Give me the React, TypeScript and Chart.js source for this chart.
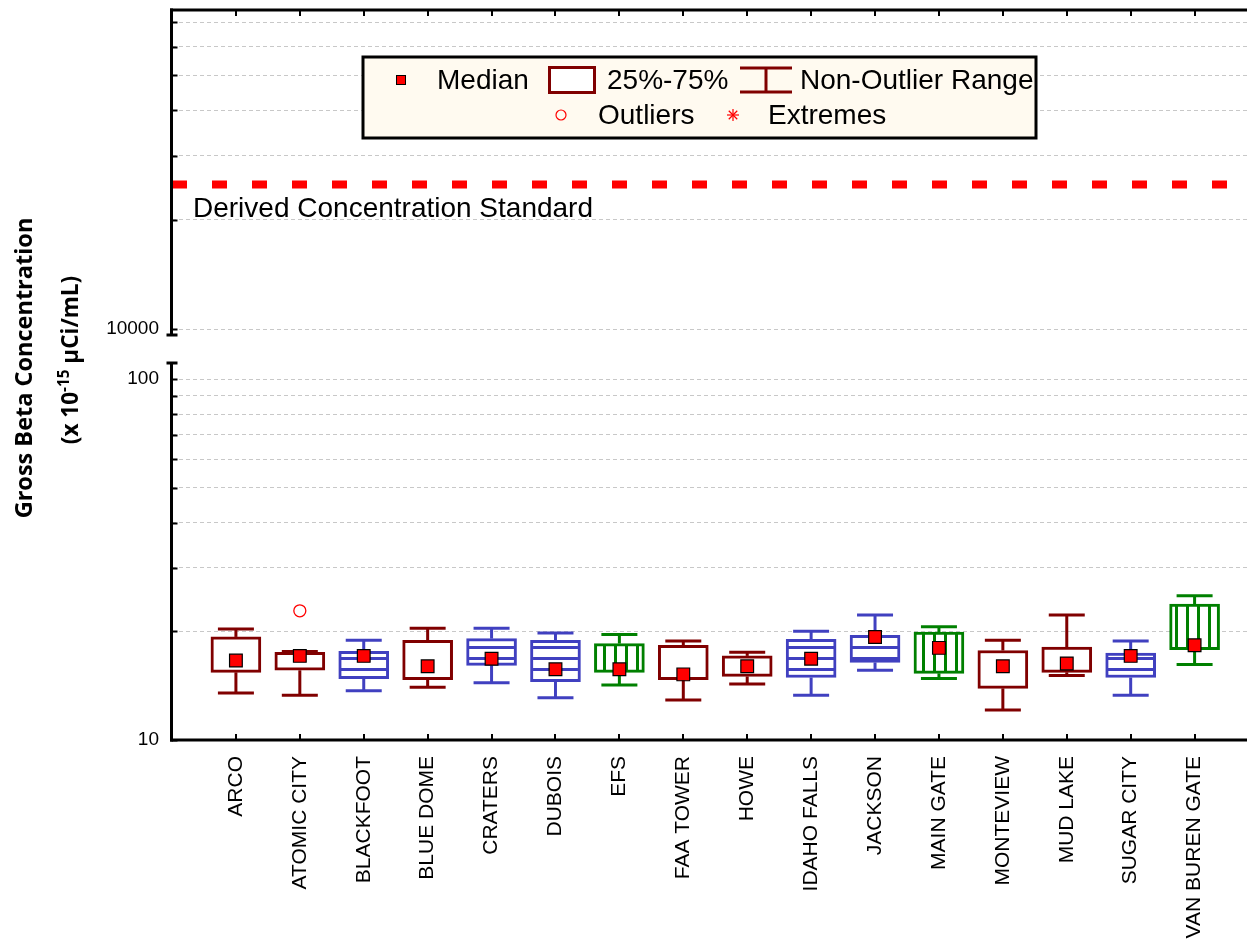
import React, { useEffect, useRef } from 'react';
import { Chart, registerables } from 'chart.js';

Chart.register(...registerables);

// ---------------- data ----------------
const categories = [
  'ARCO', 'ATOMIC CITY', 'BLACKFOOT', 'BLUE DOME', 'CRATERS', 'DUBOIS', 'EFS', 'FAA TOWER',
  'HOWE', 'IDAHO FALLS', 'JACKSON', 'MAIN GATE', 'MONTEVIEW', 'MUD LAKE', 'SUGAR CITY', 'VAN BUREN GATE',
];
const locationType = [
  'distant', 'distant', 'boundary', 'distant', 'boundary', 'boundary', 'onsite', 'distant',
  'distant', 'boundary', 'boundary', 'onsite', 'distant', 'distant', 'boundary', 'onsite',
];
const whiskerHigh = [20.3, 17.6, 18.9, 20.4, 20.4, 19.8, 19.6, 18.8, 17.5, 20.0, 22.2, 20.6, 18.9, 22.2, 18.8, 25.1];
const boxHigh = [19.3, 17.5, 17.6, 18.9, 19.1, 18.9, 18.5, 18.3, 17.1, 19.0, 19.5, 19.9, 17.7, 18.1, 17.4, 23.8];
const medians = [16.6, 17.1, 17.1, 16.0, 16.8, 15.7, 15.7, 15.2, 16.0, 16.8, 19.3, 18.0, 16.0, 16.3, 17.1, 18.3];
const boxLow = [15.4, 15.6, 14.8, 14.7, 16.1, 14.5, 15.4, 14.7, 15.0, 14.9, 16.4, 15.3, 13.9, 15.4, 14.9, 17.8];
const whiskerLow = [13.5, 13.3, 13.7, 14.0, 14.4, 13.1, 14.2, 12.9, 14.3, 13.3, 15.6, 14.8, 12.1, 15.1, 13.3, 16.2];
const outlierStations = ['ATOMIC CITY'];
const outlierValues = [22.8];
const dcsValue = 25000;
const dcsLabel = 'Derived Concentration Standard';
const lowerTicks = [10, 20, 30, 40, 50, 60, 70, 80, 90, 100];
const lowerTickLabels = [10, 100];
const upperTicks = [10000, 20000, 30000, 40000, 50000, 60000, 70000];
const upperTickLabels = [10000];
const lowerRange = [10, 111.5];
const upperRange = [9566, 75660];
const xRange = [0, 16.82];

// ---------------- layout / style ----------------
const W = 1247;
const H = 941;
const LEFT = 172;
const TOP_H = 345;
const BOT_H = 596;
const COLORS: Record<string, string> = { distant: '#800000', boundary: '#4040C0', onsite: '#008000' };
const GRID = '#C8C8C8';
const SANS = '"Liberation Sans", Arial, sans-serif';

function makeFill(kind: string): any {
  if (kind === 'distant') return '#FFFFFF';
  const c = document.createElement('canvas');
  c.width = 11;
  c.height = 11;
  const g = c.getContext('2d')!;
  g.fillStyle = '#FFFFFF';
  g.fillRect(0, 0, 11, 11);
  g.fillStyle = COLORS[kind];
  if (kind === 'boundary') {
    g.fillRect(0, 4, 11, 3);
  } else {
    g.fillRect(9, 0, 2, 11);
    g.fillRect(0, 0, 1, 11);
  }
  return g.createPattern(c, 'repeat');
}

function line(ctx: CanvasRenderingContext2D, x1: number, y1: number, x2: number, y2: number) {
  ctx.beginPath();
  ctx.moveTo(x1, y1);
  ctx.lineTo(x2, y2);
  ctx.stroke();
}

const whiskerPlugin = {
  id: 'whiskers',
  beforeDatasetsDraw(chart: any) {
    const { ctx } = chart;
    const xs = chart.scales.x;
    const ys = chart.scales.y;
    ctx.save();
    ctx.lineWidth = 3;
    categories.forEach((_, i) => {
      const x = xs.getPixelForValue(i + 1);
      ctx.strokeStyle = COLORS[locationType[i]];
      const yHi = ys.getPixelForValue(whiskerHigh[i]);
      const yLo = ys.getPixelForValue(whiskerLow[i]);
      const yB1 = ys.getPixelForValue(boxHigh[i]);
      const yB0 = ys.getPixelForValue(boxLow[i]);
      line(ctx, x, yHi, x, yB1);
      line(ctx, x, yB0, x, yLo);
      line(ctx, x - 18, yHi, x + 18, yHi);
      line(ctx, x - 18, yLo, x + 18, yLo);
    });
    ctx.restore();
  },
};

const bottomAxesPlugin = {
  id: 'bottomAxes',
  afterDraw(chart: any) {
    const { ctx, chartArea } = chart;
    const xs = chart.scales.x;
    const ys = chart.scales.y;
    ctx.save();
    ctx.strokeStyle = '#000';
    ctx.lineWidth = 3;
    const ax = chartArea.left - 0.5;
    line(ctx, ax, chartArea.top, ax, chartArea.bottom + 1.5);
    line(ctx, ax - 1.5, chartArea.bottom, chartArea.right, chartArea.bottom);
    // break cap
    line(ctx, ax - 5, chartArea.top + 1, ax + 6, chartArea.top + 1);
    ctx.lineWidth = 2;
    lowerTicks.forEach((v) => {
      const y = Math.round(ys.getPixelForValue(v)) + 0.5;
      line(ctx, ax, y, ax + 6, y);
    });
    categories.forEach((_, i) => {
      const x = Math.round(xs.getPixelForValue(i + 1));
      line(ctx, x, chartArea.bottom, x, chartArea.bottom - 6);
    });
    ctx.restore();
  },
};

const topDecorPlugin = {
  id: 'topDecor',
  afterDraw(chart: any) {
    const { ctx, chartArea } = chart;
    const xs = chart.scales.x;
    const ys = chart.scales.y;
    ctx.save();
    ctx.strokeStyle = '#000';
    ctx.lineWidth = 3;
    const ax = chartArea.left - 0.5;
    line(ctx, ax, chartArea.top - 1.5, ax, chartArea.bottom);
    line(ctx, ax - 1.5, chartArea.top, chartArea.right, chartArea.top);
    line(ctx, ax - 5, chartArea.bottom - 1, ax + 6, chartArea.bottom - 1);
    ctx.lineWidth = 2;
    upperTicks.forEach((v) => {
      const y = Math.round(ys.getPixelForValue(v)) + 0.5;
      line(ctx, ax, y, ax + 6, y);
    });
    categories.forEach((_, i) => {
      const x = Math.round(xs.getPixelForValue(i + 1));
      line(ctx, x, chartArea.top, x, chartArea.top + 6);
    });

    // DCS label
    ctx.fillStyle = '#000';
    ctx.font = `28px ${SANS}`;
    ctx.textBaseline = 'middle';
    ctx.textAlign = 'left';
    ctx.fillText(dcsLabel, 193, 209);

    // legend
    const L = 363, T = 57, R = 1036, B = 138;
    ctx.fillStyle = '#FFFAF0';
    ctx.fillRect(L, T, R - L, B - T);
    ctx.lineWidth = 3;
    ctx.strokeStyle = '#000';
    ctx.strokeRect(L, T, R - L, B - T);
    const r1 = 80, r2 = 115;
    const dark = COLORS.distant;
    // median
    ctx.fillStyle = '#FF0000';
    ctx.fillRect(396, r1 - 5, 10, 10);
    ctx.lineWidth = 1;
    ctx.strokeStyle = '#000';
    ctx.strokeRect(396.5, r1 - 4.5, 9, 9);
    // box
    ctx.fillStyle = '#FFFFFF';
    ctx.fillRect(549, 67, 46, 26);
    ctx.strokeStyle = dark;
    ctx.lineWidth = 3;
    ctx.strokeRect(549.5, 67.5, 45, 25);
    // whisker
    line(ctx, 740, 68, 792, 68);
    line(ctx, 740, 92, 792, 92);
    line(ctx, 766, 68, 766, 92);
    // outlier
    ctx.strokeStyle = '#FF0000';
    ctx.lineWidth = 1.2;
    ctx.beginPath();
    ctx.arc(561, r2, 5, 0, Math.PI * 2);
    ctx.stroke();
    // extreme asterisk
    const ex = 733;
    for (let k = 0; k < 4; k++) {
      const a = (k * Math.PI) / 4;
      line(ctx, ex - 6 * Math.cos(a), r2 - 6 * Math.sin(a), ex + 6 * Math.cos(a), r2 + 6 * Math.sin(a));
    }
    ctx.fillStyle = '#000';
    ctx.font = `28px ${SANS}`;
    ctx.textBaseline = 'middle';
    ctx.fillText('Median', 437, r1 + 1);
    ctx.fillText('25%-75%', 607, r1 + 1);
    ctx.fillText('Non-Outlier Range', 800, r1 + 1);
    ctx.fillText('Outliers', 598, r2 + 1);
    ctx.fillText('Extremes', 768, r2 + 1);
    ctx.restore();
  },
};

const tickFont = { family: SANS, size: 19 };

const fixYFit = (s: any) => {
  s.width = LEFT;
  s.paddingTop = 0;
  s.paddingBottom = 0;
};

export default function App() {
  const topRef = useRef<HTMLCanvasElement>(null);
  const botRef = useRef<HTMLCanvasElement>(null);

  useEffect(() => {
    const top = new Chart(topRef.current!, {
      type: 'line',
      data: {
        datasets: [
          {
            label: dcsLabel,
            data: [
              { x: xRange[0], y: dcsValue },
              { x: xRange[1], y: dcsValue },
            ],
            borderColor: '#FF0000',
            borderWidth: 8,
            borderDash: [15, 25],
            borderCapStyle: 'butt',
            pointRadius: 0,
            fill: false,
          } as any,
        ],
      },
      options: {
        responsive: false,
        animation: false,
        devicePixelRatio: 1,
        layout: { autoPadding: false, padding: { top: 10, bottom: 9, left: 0, right: 0 } },
        plugins: { legend: { display: false }, tooltip: { enabled: false } },
        scales: {
          x: {
            type: 'linear',
            display: false,
            min: xRange[0],
            max: xRange[1],
            afterFit: (s: any) => {
              s.paddingLeft = 0;
              s.paddingRight = 0;
            },
          },
          y: {
            type: 'logarithmic',
            min: upperRange[0],
            max: upperRange[1],
            afterBuildTicks: (s: any) => {
              s.ticks = upperTicks.map((v) => ({ value: v }));
            },
            afterFit: fixYFit,
            grid: { color: GRID, lineWidth: 1, drawTicks: false },
            border: { display: false, dash: [4, 3] },
            ticks: {
              padding: 13,
              color: '#000',
              font: tickFont,
              autoSkip: false,
              callback: (v: any) => (upperTickLabels.includes(Number(v)) ? String(v) : ''),
            },
          },
        },
      } as any,
      plugins: [topDecorPlugin],
    });

    const bot = new Chart(botRef.current!, {
      type: 'bar',
      data: {
        datasets: [
          {
            type: 'scatter',
            label: 'Median',
            data: categories.map((_, i) => ({ x: i + 1, y: medians[i] })),
            pointStyle: 'rect',
            pointRadius: 9,
            backgroundColor: '#FF0000',
            borderColor: '#000000',
            borderWidth: 1.2,
            order: 0,
          } as any,
          {
            type: 'scatter',
            label: 'Outliers',
            data: outlierStations.map((s, k) => ({ x: categories.indexOf(s) + 1, y: outlierValues[k] })),
            pointStyle: 'circle',
            pointRadius: 6,
            backgroundColor: 'rgba(0,0,0,0)',
            borderColor: '#FF0000',
            borderWidth: 1.3,
            order: 0,
          } as any,
          {
            type: 'bar',
            label: '25%-75%',
            data: categories.map((_, i) => ({ x: i + 1, y: [boxLow[i], boxHigh[i]] })),
            backgroundColor: locationType.map((t) => makeFill(t)),
            borderColor: locationType.map((t) => COLORS[t]),
            borderWidth: 3,
            borderSkipped: false,
            barThickness: 50,
            order: 1,
          } as any,
        ],
      },
      options: {
        responsive: false,
        animation: false,
        devicePixelRatio: 1,
        layout: { autoPadding: false, padding: { top: 17, bottom: 0, left: 0, right: 0 } },
        plugins: { legend: { display: false }, tooltip: { enabled: false } },
        scales: {
          x: {
            type: 'linear',
            min: xRange[0],
            max: xRange[1],
            offset: false,
            grid: { display: false, drawTicks: false },
            border: { display: false },
            afterBuildTicks: (s: any) => {
              s.ticks = categories.map((_, i) => ({ value: i + 1 }));
            },
            afterFit: (s: any) => {
              s.height = BOT_H - 395;
              s.paddingLeft = 0;
              s.paddingRight = 0;
            },
            ticks: {
              autoSkip: false,
              minRotation: 90,
              maxRotation: 90,
              padding: 16,
              color: '#000',
              font: { family: SANS, size: 21 },
              callback: (v: any) => categories[Math.round(Number(v)) - 1] ?? '',
            },
          },
          y: {
            type: 'logarithmic',
            min: lowerRange[0],
            max: lowerRange[1],
            beginAtZero: false,
            afterBuildTicks: (s: any) => {
              s.ticks = lowerTicks.map((v) => ({ value: v }));
            },
            afterFit: fixYFit,
            grid: { color: GRID, lineWidth: 1, drawTicks: false },
            border: { display: false, dash: [4, 3] },
            ticks: {
              padding: 13,
              color: '#000',
              font: tickFont,
              autoSkip: false,
              callback: (v: any) => (lowerTickLabels.includes(Number(v)) ? String(v) : ''),
            },
          },
        },
      } as any,
      plugins: [whiskerPlugin, bottomAxesPlugin],
    });

    return () => {
      top.destroy();
      bot.destroy();
    };
  }, []);

  const titleStyle = (cx: number, cy: number, size: number): React.CSSProperties => ({
    position: 'absolute',
    left: cx,
    top: cy,
    transform: 'translate(-50%, -50%) rotate(-90deg)',
    whiteSpace: 'nowrap',
    font: `bold ${size}px "Open Sans", sans-serif`,
    lineHeight: 1,
    color: '#000',
  });

  return (
    <div style={{ position: 'absolute', left: 0, top: 0, width: W, height: H, background: '#fff', overflow: 'hidden' }}>
      <canvas ref={topRef} width={W} height={TOP_H} style={{ position: 'absolute', left: 0, top: 0, width: W, height: TOP_H }} />
      <canvas ref={botRef} width={W} height={BOT_H} style={{ position: 'absolute', left: 0, top: TOP_H, width: W, height: BOT_H }} />
      <div style={titleStyle(24, 368, 23.5)}>Gross Beta Concentration</div>
      <div style={titleStyle(70, 360, 22.5)}>
        (x 10<sup style={{ fontSize: '0.68em', verticalAlign: '0.55em', lineHeight: 0 }}>-15</sup> µCi/mL)
      </div>
    </div>
  );
}
